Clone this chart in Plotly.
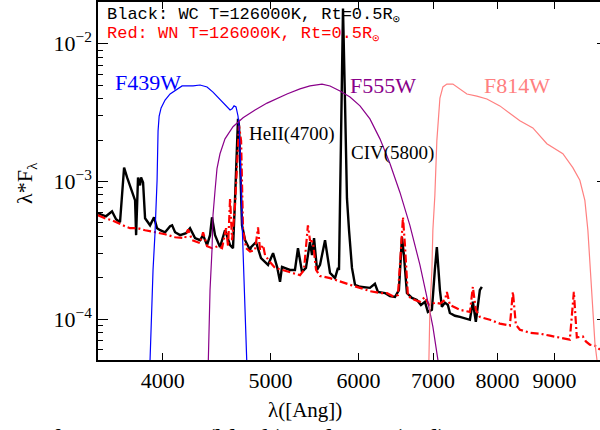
import plotly.graph_objects as go

# ---- data (wavelength in Angstrom, lambda*F_lambda) ----
wc_wave = [3498, 3556, 3601, 3631, 3661, 3692, 3715, 3738, 3761, 3777, 3785, 3793, 3800, 3816, 3824, 3840,
           3856, 3896, 3928, 3953, 3978, 4019, 4061, 4078, 4103, 4146, 4197, 4232, 4276, 4321, 4348, 4384,
           4411, 4429, 4457, 4503, 4550, 4598, 4626, 4645, 4665, 4674, 4684, 4694, 4713, 4743, 4792, 4802,
           4852, 4902, 4974, 5026, 5068, 5099, 5120, 5205, 5259, 5292, 5336, 5380, 5425, 5448, 5471, 5505,
           5539, 5597, 5655, 5714, 5749, 5761, 5785, 5809, 5833, 5857, 5882, 5918, 5955, 6017, 6142, 6206,
           6245, 6336, 6402, 6469, 6522, 6563, 6590, 6631, 6700, 6770, 6826, 6883, 6925, 6983, 7026, 7055,
           7100, 7129, 7174, 7218, 7248, 7324, 7400, 7477, 7555, 7601, 7648, 7712, 7744]
wc_flux = [5.88e-4, 5.59e-4, 6.08e-4, 5.32e-4, 5.06e-4, 1.26e-3, 1.07e-3, 9.36e-4, 7.92e-4, 7.29e-4, 4.08e-4,
           7.29e-4, 1.07e-3, 9.36e-4, 1.07e-3, 9.83e-4, 5.41e-4, 4.81e-4, 5.50e-4, 4.58e-4, 4.43e-4, 4.28e-4,
           4.73e-4, 4.81e-4, 4.28e-4, 4.08e-4, 4.21e-4, 4.58e-4, 3.88e-4, 3.75e-4, 4.08e-4, 3.45e-4, 4.08e-4,
           5.50e-4, 4.08e-4, 3.34e-4, 4.43e-4, 3.45e-4, 3.28e-4, 7.29e-4, 2.33e-3, 2.85e-3, 2.54e-3, 1.42e-3,
           4.81e-4, 3.75e-4, 3.18e-4, 3.34e-4, 3.63e-4, 2.78e-4, 2.48e-4, 3.02e-4, 2.40e-4, 1.87e-4, 2.40e-4,
           2.28e-4, 2.28e-4, 3.28e-4, 2.21e-4, 2.36e-4, 3.63e-4, 2.92e-4, 3.88e-4, 2.28e-4, 2.48e-4, 3.75e-4,
           2.17e-4, 1.99e-4, 2.36e-4, 2.28e-4, 1.98e-3, 1.80e-2, 3.84e-3, 7.54e-4, 4.43e-4, 2.36e-4, 1.78e-4,
           1.72e-4, 1.69e-4, 1.81e-4, 1.58e-4, 1.55e-4, 1.47e-4, 1.45e-4, 1.63e-4, 3.94e-4, 2.92e-4, 1.55e-4,
           1.43e-4, 1.38e-4, 1.27e-4, 1.34e-4, 1.13e-4, 1.17e-4, 2.28e-4, 3.34e-4, 1.63e-4, 1.23e-4, 1.32e-4,
           1.27e-4, 1.11e-4, 1.06e-4, 1.04e-4, 1.02e-4, 9.91e-5, 1.34e-4, 9.58e-5, 1.63e-4, 1.72e-4]

wn_wave = [3498, 3548, 3601, 3661, 3700, 3738, 3800, 3856, 3936, 4019, 4103, 4189, 4215, 4250, 4321, 4348,
           4384, 4429, 4484, 4522, 4560, 4579, 4598, 4617, 4645, 4665, 4684, 4704, 4723, 4753, 4792, 4842,
           4872, 4892, 4923, 4943, 4994, 5047, 5120, 5205, 5314, 5358, 5402, 5425, 5459, 5494, 5539, 5655,
           5773, 5894, 6017, 6142, 6271, 6362, 6442, 6509, 6549, 6577, 6604, 6645, 6742, 6812, 6883, 6940,
           7026, 7100, 7174, 7203, 7248, 7400, 7555, 7601, 7648, 7712, 7874, 8038, 8207, 8258, 8309, 8378,
           8553, 8732, 8915, 9101, 9291, 9369, 9427, 9545, 9605, 9684, 9786, 9890]
wn_flux = [5.69e-4, 5.41e-4, 5.23e-4, 4.89e-4, 4.73e-4, 4.58e-4, 4.58e-4, 4.43e-4, 4.28e-4, 4.14e-4, 3.94e-4,
           3.88e-4, 4.50e-4, 3.75e-4, 3.57e-4, 4.28e-4, 3.39e-4, 3.28e-4, 3.39e-4, 3.28e-4, 4.58e-4, 3.39e-4,
           7.54e-4, 3.75e-4, 6.68e-4, 1.20e-3, 2.54e-3, 1.98e-3, 4.43e-4, 3.28e-4, 3.10e-4, 3.18e-4, 4.65e-4,
           3.18e-4, 3.45e-4, 2.92e-4, 2.60e-4, 2.36e-4, 2.28e-4, 2.21e-4, 2.09e-4, 2.28e-4, 4.81e-4, 3.75e-4,
           3.63e-4, 2.28e-4, 2.06e-4, 1.99e-4, 1.87e-4, 1.78e-4, 1.69e-4, 1.60e-4, 1.55e-4, 1.55e-4, 1.47e-4,
           1.50e-4, 3.18e-4, 5.50e-4, 3.45e-4, 1.47e-4, 1.38e-4, 1.34e-4, 1.45e-4, 1.27e-4, 1.32e-4, 1.30e-4,
           1.38e-4, 1.58e-4, 1.27e-4, 1.17e-4, 1.13e-4, 1.72e-4, 1.17e-4, 1.04e-4, 9.91e-5, 9.30e-5, 8.99e-5,
           1.58e-4, 9.14e-5, 8.39e-5, 7.98e-5, 7.86e-5, 7.60e-5, 7.38e-5, 7.11e-5, 1.58e-4, 7.38e-5, 7.50e-5,
           6.90e-5, 6.54e-5, 6.43e-5, 6.02e-5]

f439_wave = [3888, 3896, 3912, 3920, 3936, 3953, 3961, 3970, 3986, 4019, 4061, 4120, 4163, 4206, 4259, 4321,
             4384, 4438, 4503, 4560, 4598, 4617, 4636, 4655, 4674, 4684, 4694, 4713, 4733, 4753, 4763]
f439_curve = [4.18e-5, 5.10e-5, 1.38e-4, 2.28e-4, 4.21e-4, 1.02e-3, 2.33e-3, 2.99e-3, 3.42e-3, 3.90e-3, 4.32e-3,
              4.70e-3, 4.94e-3, 4.94e-3, 4.94e-3, 5.02e-3, 4.86e-3, 4.46e-3, 3.97e-3, 3.60e-3, 3.31e-3, 3.37e-3,
              3.54e-3, 3.48e-3, 2.99e-3, 2.54e-3, 1.67e-3, 5.23e-4, 1.93e-4, 7.11e-5, 4.18e-5]

f555_wave = [4393, 4402, 4411, 4429, 4438, 4457, 4475, 4503, 4550, 4626, 4723, 4842, 4964, 5173, 5314, 5425,
             5562, 5655, 5773, 5894, 6017, 6142, 6271, 6402, 6536, 6672, 6812, 6911, 6997, 7070, 7100]
f555_curve = [4.18e-5, 8.39e-5, 1.63e-4, 3.18e-4, 5.69e-4, 8.61e-4, 1.24e-3, 1.59e-3, 2.04e-3, 2.50e-3, 2.90e-3,
              3.31e-3, 3.71e-3, 4.32e-3, 4.70e-3, 4.94e-3, 5.10e-3, 4.94e-3, 4.54e-3, 4.11e-3, 3.54e-3, 2.85e-3,
              2.04e-3, 1.35e-3, 8.33e-4, 4.81e-4, 2.48e-4, 1.45e-4, 8.84e-5, 5.10e-5, 4.18e-5]

f814_wave = [6925, 6940, 6954, 6983, 6997, 7026, 7055, 7085, 7100, 7144, 7203, 7293, 7400, 7508, 7664, 7825,
             8038, 8258, 8378, 8606, 8860, 9158, 9349, 9486, 9585, 9645, 9684, 9725, 9786, 9827, 9847]
f814_curve = [4.18e-5, 5.10e-5, 1.17e-4, 2.28e-4, 4.43e-4, 7.92e-4, 1.98e-3, 2.99e-3, 4.04e-3, 4.86e-3, 5.10e-3,
              5.10e-3, 4.70e-3, 4.32e-3, 4.17e-3, 3.97e-3, 3.54e-3, 2.99e-3, 2.76e-3, 2.45e-3, 1.88e-3, 1.59e-3,
              1.26e-3, 1.02e-3, 7.29e-4, 4.43e-4, 2.69e-4, 1.38e-4, 6.77e-5, 5.10e-5, 4.18e-5]

x_ticks = [4000, 5000, 6000, 7000, 8000, 9000]
x_ticktext = ["4000", "5000", "6000", "7000", "8000", "9000"]
y_ticks = [1e-4, 1e-3, 1e-2]
y_ticktext = ["10<sup>−4</sup>", "10<sup>−3</sup>", "10<sup>−2</sup>"]
y_minor = [m * 10.0 ** e for e in (-5, -4, -3, -2) for m in range(2, 10)]

X_RANGE = [3.5438, 3.9952]
Y_RANGE = [-4.2958, -1.6968]

SERIF = "'Liberation Serif', serif"
MONO = "'Liberation Mono', monospace"
PURPLE = "#8a008a"
PINK = "#ff8080"

fig = go.Figure()
fig.add_trace(go.Scatter(x=wc_wave, y=wc_flux, mode="lines", line=dict(color="black", width=2.4)))
fig.add_trace(go.Scatter(x=wn_wave, y=wn_flux, mode="lines",
                         line=dict(color="#ff0000", width=2.2, dash="8px,3px,2px,3px")))
fig.add_trace(go.Scatter(x=f439_wave, y=f439_curve, mode="lines", line=dict(color="#0000ff", width=1.2)))
fig.add_trace(go.Scatter(x=f555_wave, y=f555_curve, mode="lines", line=dict(color=PURPLE, width=1.2)))
fig.add_trace(go.Scatter(x=f814_wave, y=f814_curve, mode="lines", line=dict(color=PINK, width=1.2)))
fig.add_trace(go.Scatter(x=[], y=[], yaxis="y2", mode="lines", showlegend=False))


def px(x):
    return (x - 98) / 502.0


def py(y):
    return (360 - y) / 360.0


ann = []


def add_text(x, y, text, size, color="black", xanchor="center", family=SERIF, angle=0, yanchor="middle"):
    ann.append(dict(x=px(x), y=py(y), xref="paper", yref="paper", text=text, showarrow=False,
                    xanchor=xanchor, yanchor=yanchor, textangle=angle,
                    font=dict(family=family, size=size, color=color)))


add_text(105, 14, "Black: WC T=126000K, Rt=0.5R<sub>⊙</sub>", 17, "black", "left", family=MONO)
add_text(105, 33, "Red: WN T=126000K, Rt=0.5R<sub>⊙</sub>", 17, "#ff0000", "left", family=MONO)
add_text(148, 81, "F439W", 22, "#0000ff")
add_text(383, 84, "F555W", 22, PURPLE)
add_text(517, 84, "F814W", 22, PINK)
add_text(291, 133, "HeII(4700)", 19)
add_text(392, 152, "CIV(5800)", 19)
add_text(305, 410, "λ([Ang])", 21)
add_text(26, 182, "λ*F<sub>λ</sub>", 22, angle=-90)
add_text(35, 421, "of R<sub>*</sub> WR WC (black) and WN (red) spectra", 28, "black", "left",
         yanchor="top")

fig.update_layout(
    width=600, height=430,
    margin=dict(l=98, r=0, t=0, b=70),
    paper_bgcolor="white", plot_bgcolor="white",
    showlegend=False,
    annotations=ann,
    xaxis=dict(type="log", range=X_RANGE, tickmode="array", tickvals=x_ticks, ticktext=x_ticktext,
               ticks="inside", ticklen=7, tickwidth=1, tickcolor="black",
               showline=True, linecolor="black", linewidth=1.5, mirror="ticks",
               showgrid=False, zeroline=False,
               tickfont=dict(family=SERIF, size=22, color="black")),
    yaxis=dict(type="log", range=Y_RANGE, tickmode="array", tickvals=y_ticks, ticktext=y_ticktext,
               ticks="inside", ticklen=10, tickwidth=1, tickcolor="black",
               showline=True, linecolor="black", linewidth=1.5, mirror=False,
               showgrid=False, zeroline=False,
               minor=dict(tickmode="array", tickvals=y_minor, ticks="inside", ticklen=5,
                          tickcolor="black", tickwidth=1, showgrid=False),
               tickfont=dict(family=SERIF, size=22, color="black")),
    yaxis2=dict(type="log", range=Y_RANGE, overlaying="y", side="right", tickmode="array",
                tickvals=y_ticks, ticks="inside", ticklen=3, tickcolor="black", tickwidth=1,
                showticklabels=False, showline=False, showgrid=False, zeroline=False),
)

fig.write_html("out.html")
